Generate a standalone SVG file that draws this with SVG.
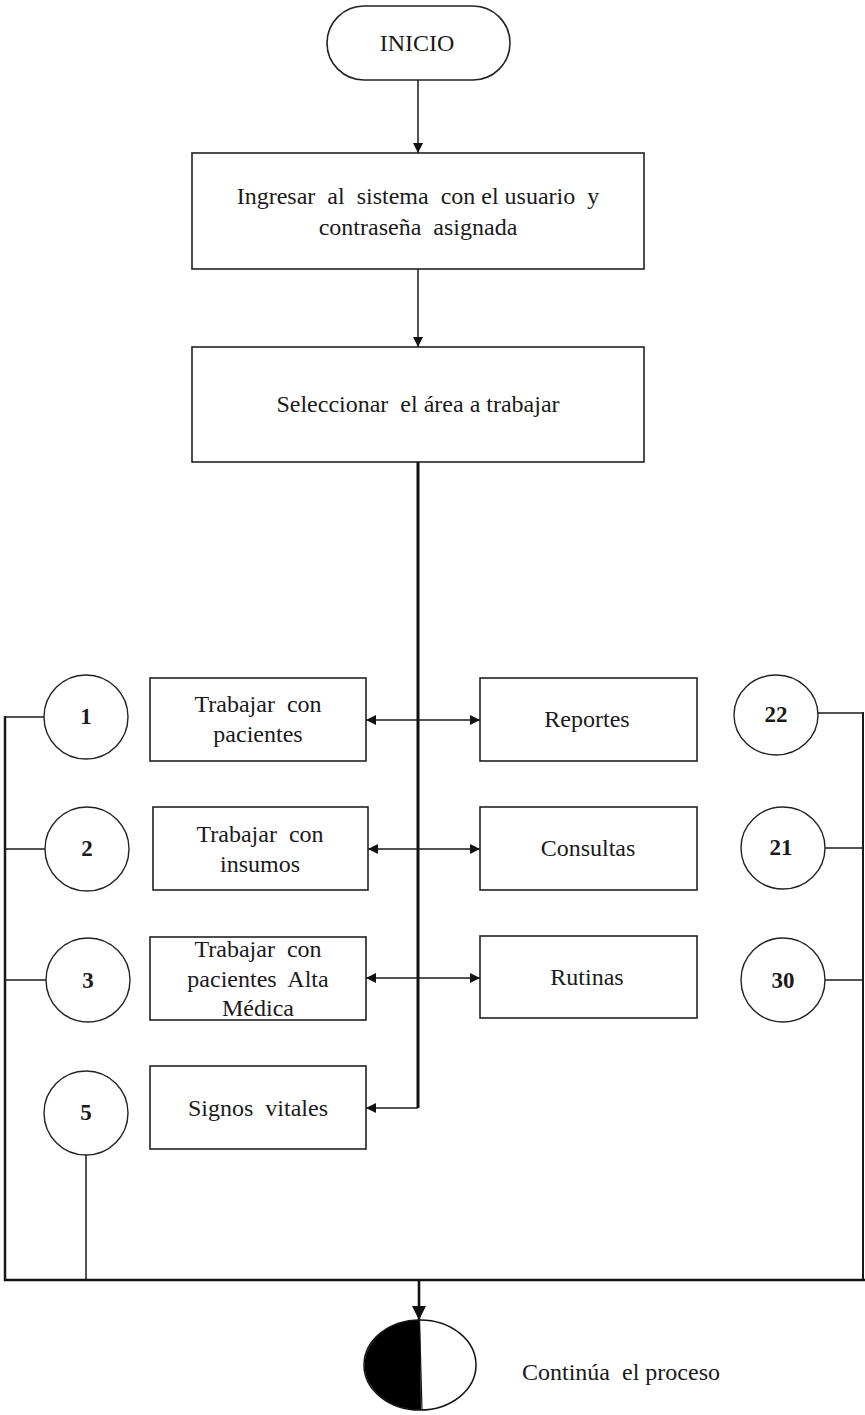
<svg xmlns="http://www.w3.org/2000/svg" width="865" height="1415" viewBox="0 0 865 1415">
  <style>
    .box { fill: #ffffff; stroke: #222222; stroke-width: 1.6; }
    .circ { fill: #ffffff; stroke: #222222; stroke-width: 1.4; }
    .lbl { font-family: "Liberation Serif", Tinos, "Times New Roman", "DejaVu Serif", serif; font-size: 24px; fill: #1a1a1a; text-anchor: middle; white-space: pre; }
    .num { font-family: "Liberation Serif", Tinos, "Times New Roman", "DejaVu Serif", serif; font-size: 23px; font-weight: bold; fill: #1a1a1a; text-anchor: middle; }
    .ln { fill: none; stroke: #1a1a1a; stroke-width: 1.5; }
    .thick { fill: none; stroke: #111111; stroke-width: 3; }
  </style>
  <defs>
    <marker id="arr" viewBox="0 0 10 10" refX="10" refY="5" markerWidth="11" markerHeight="10" markerUnits="userSpaceOnUse" orient="auto-start-reverse">
      <path d="M0,0 L10,5 L0,10 Z" fill="#111111"/>
    </marker>
    <marker id="arrBig" viewBox="0 0 10 10" refX="10" refY="5" markerWidth="16" markerHeight="14" markerUnits="userSpaceOnUse" orient="auto">
      <path d="M0,0 L10,5 L0,10 Z" fill="#111111"/>
    </marker>
  </defs>

  <!-- connectors -->
  <g id="connectors">
    <line class="ln" x1="418" y1="80" x2="418" y2="153" marker-end="url(#arr)"/>
    <line class="ln" x1="418" y1="269" x2="418" y2="347" marker-end="url(#arr)"/>
    <!-- trunk from area selection down to Signos vitales -->
    <line class="thick" x1="418" y1="462" x2="418" y2="1108"/>
    <polyline class="ln" points="418,1108 366,1108" marker-end="url(#arr)"/>
    <!-- two-way branches -->
    <line class="ln" x1="366" y1="720" x2="480" y2="720" marker-start="url(#arr)" marker-end="url(#arr)"/>
    <line class="ln" x1="368" y1="849" x2="480" y2="849" marker-start="url(#arr)" marker-end="url(#arr)"/>
    <line class="ln" x1="366" y1="978" x2="480" y2="978" marker-start="url(#arr)" marker-end="url(#arr)"/>
    <!-- left collector -->
    <line class="ln" x1="44" y1="717" x2="5" y2="717"/>
    <line class="ln" x1="45" y1="849" x2="5" y2="849"/>
    <line class="ln" x1="46" y1="980" x2="5" y2="980"/>
    <line class="ln" x1="86" y1="1155" x2="86" y2="1280"/>
    <line class="ln" x1="5" y1="716" x2="5" y2="1281" style="stroke-width:2.5"/>
    <!-- right collector -->
    <line class="ln" x1="818" y1="713" x2="863" y2="713"/>
    <line class="ln" x1="825" y1="848" x2="863" y2="848"/>
    <line class="ln" x1="825" y1="980" x2="863" y2="980"/>
    <line class="ln" x1="863" y1="712" x2="863" y2="1281" style="stroke-width:2"/>
    <!-- bottom bus and exit -->
    <line class="thick" x1="4" y1="1280" x2="865" y2="1280" style="stroke-width:2.6"/>
    <line class="thick" x1="419" y1="1280" x2="419" y2="1320" marker-end="url(#arrBig)" style="stroke-width:2.6"/>
  </g>

  <g id="inicio">
    <rect class="box" x="327" y="6" width="183" height="74" rx="37" ry="37"/>
    <text class="lbl" x="417" y="51">INICIO</text>
  </g>

  <g id="ingresar">
    <rect class="box" x="192" y="153" width="452" height="116"/>
    <text class="lbl" x="418" y="204">Ingresar  al  sistema  con el usuario  y</text>
    <text class="lbl" x="418" y="235">contraseña  asignada</text>
  </g>

  <g id="seleccionar">
    <rect class="box" x="192" y="347" width="452" height="115"/>
    <text class="lbl" x="418" y="412">Seleccionar  el área a trabajar</text>
  </g>

  <g id="pacientes">
    <rect class="box" x="150" y="678" width="216" height="83"/>
    <text class="lbl" x="258" y="712">Trabajar  con</text>
    <text class="lbl" x="258" y="742">pacientes</text>
  </g>

  <g id="insumos">
    <rect class="box" x="153" y="807" width="215" height="83"/>
    <text class="lbl" x="260" y="842">Trabajar  con</text>
    <text class="lbl" x="260" y="872">insumos</text>
  </g>

  <g id="alta-medica">
    <rect class="box" x="150" y="937" width="216" height="83"/>
    <text class="lbl" x="258" y="957">Trabajar  con</text>
    <text class="lbl" x="258" y="987">pacientes  Alta</text>
    <text class="lbl" x="258" y="1016">Médica</text>
  </g>

  <g id="signos">
    <rect class="box" x="150" y="1066" width="216" height="83"/>
    <text class="lbl" x="258" y="1116">Signos  vitales</text>
  </g>

  <g id="reportes">
    <rect class="box" x="480" y="678" width="217" height="83"/>
    <text class="lbl" x="587" y="727">Reportes</text>
  </g>

  <g id="consultas">
    <rect class="box" x="480" y="807" width="217" height="83"/>
    <text class="lbl" x="588" y="856">Consultas</text>
  </g>

  <g id="rutinas">
    <rect class="box" x="480" y="936" width="217" height="82"/>
    <text class="lbl" x="587" y="985">Rutinas</text>
  </g>

  <g id="c1">
    <circle class="circ" cx="86" cy="717" r="42"/>
    <text class="num" x="86" y="724">1</text>
  </g>
  <g id="c2">
    <circle class="circ" cx="87" cy="849" r="42"/>
    <text class="num" x="87" y="856">2</text>
  </g>
  <g id="c3">
    <circle class="circ" cx="88" cy="980" r="42"/>
    <text class="num" x="88" y="988">3</text>
  </g>
  <g id="c5">
    <circle class="circ" cx="86" cy="1113" r="42"/>
    <text class="num" x="86" y="1120">5</text>
  </g>
  <g id="c22">
    <ellipse class="circ" cx="776" cy="715" rx="42" ry="40"/>
    <text class="num" x="776" y="722">22</text>
  </g>
  <g id="c21">
    <ellipse class="circ" cx="783" cy="848" rx="42" ry="41"/>
    <text class="num" x="781" y="855">21</text>
  </g>
  <g id="c30">
    <circle class="circ" cx="783" cy="980" r="42"/>
    <text class="num" x="783" y="988">30</text>
  </g>

  <g id="continua">
    <path d="M420,1320 A56,45 0 0,0 421,1410 Z" fill="#000000"/>
    <ellipse cx="420" cy="1365" rx="56" ry="45" fill="none" stroke="#111111" stroke-width="1.5"/>
    <line x1="419.5" y1="1320" x2="422" y2="1410" stroke="#111111" stroke-width="1.2"/>
    <text class="lbl" x="621" y="1380">Continúa  el proceso</text>
  </g>
</svg>
